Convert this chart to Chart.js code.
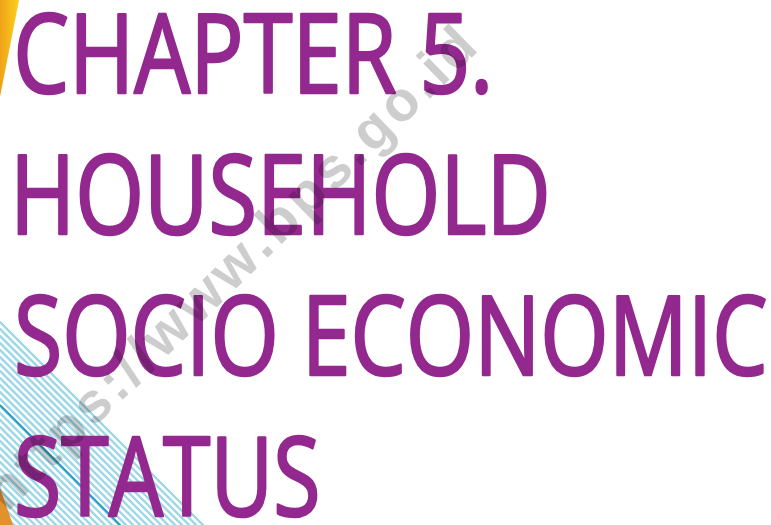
<!DOCTYPE html>
<html>
<head>
<meta charset="utf-8">
<script src="https://cdn.jsdelivr.net/npm/chart.js@4"></script>
<style>
  html, body { margin: 0; padding: 0; background: #fff; }
  #wrap { width: 771px; height: 525px; position: relative; }
</style>
</head>
<body>
<div id="wrap"><canvas id="cover"></canvas></div>
<script>
const titleLines = ["CHAPTER 5.", "HOUSEHOLD", "SOCIO ECONOMIC", "STATUS"];
const watermarkText = "https://www.bps.go.id";

// layout: right edge of each title line's ink (px)
const lineRight = [488, 547, 766, 318];
const PURPLE = "#93288f";

// watermark runs diagonally up to the right
const wmStart = { x: -4, y: 502 };
const wmAngle = -44.4;
const wmLength = 662;

const coverArt = {
  id: "coverArt",
  beforeDraw(chart) {
    const ctx = chart.ctx;
    ctx.save();
    ctx.fillStyle = "#fff";
    ctx.fillRect(0, 0, chart.width, chart.height);

    // yellow wedge, top left
    const g = ctx.createLinearGradient(0, 0, 19, 0);
    g.addColorStop(0, "#f0a21a");
    g.addColorStop(1, "#fbd11b");
    ctx.fillStyle = g;
    ctx.beginPath();
    ctx.moveTo(0, 0); ctx.lineTo(19, 0); ctx.lineTo(0, 97);
    ctx.closePath(); ctx.fill();

    // cyan hatching, bottom left
    ctx.save();
    ctx.beginPath();
    ctx.moveTo(0, 320); ctx.lineTo(210, 530); ctx.lineTo(0, 530);
    ctx.closePath(); ctx.clip();
    ctx.strokeStyle = "#9dd8e8";
    ctx.lineWidth = 2.4;
    for (let x = -260; x < 220; x += 7) {
      ctx.beginPath();
      ctx.moveTo(x, 300); ctx.lineTo(x + 240, 540);
      ctx.stroke();
    }
    ctx.restore();

    ctx.strokeStyle = "#2a9bc6";
    ctx.lineWidth = 2;
    ctx.beginPath();
    ctx.moveTo(0, 405); ctx.lineTo(125, 530);
    ctx.stroke();

    ctx.fillStyle = "#e2922c";
    ctx.beginPath();
    ctx.moveTo(0, 488); ctx.lineTo(13, 525); ctx.lineTo(0, 525);
    ctx.closePath(); ctx.fill();
    ctx.restore();
  },
  afterDatasetsDraw(chart) {
    const ctx = chart.ctx;
    const yScale = chart.scales.y;
    const left = chart.chartArea.left;
    const lw = 2.6;

    ctx.save();
    ctx.font = "110px 'Open Sans'";
    ctx.fillStyle = PURPLE;
    ctx.strokeStyle = PURPLE;
    ctx.lineWidth = lw;
    ctx.lineJoin = "round";
    const capH = ctx.measureText("H").actualBoundingBoxAscent;
    titleLines.forEach((line, i) => {
      const mid = yScale.getPixelForValue(i);
      const m = ctx.measureText(line);
      const inkW = m.actualBoundingBoxLeft + m.actualBoundingBoxRight + lw;
      const sx = (lineRight[i] - left) / inkW;
      ctx.save();
      ctx.translate(left, mid + capH / 2);
      ctx.scale(sx, 1);
      ctx.fillText(line, m.actualBoundingBoxLeft + lw / 2, 0);
      ctx.strokeText(line, m.actualBoundingBoxLeft + lw / 2, 0);
      ctx.restore();
    });
    ctx.restore();

    // watermark
    ctx.save();
    ctx.globalCompositeOperation = "multiply";
    ctx.fillStyle = "#cdcdcd";
    ctx.font = "bold 56px 'Liberation Sans'";
    ctx.textBaseline = "middle";
    ctx.translate(wmStart.x, wmStart.y);
    ctx.rotate(wmAngle * Math.PI / 180);
    const chars = [...watermarkText];
    const widths = chars.map(c => ctx.measureText(c).width);
    const natural = widths.reduce((a, b) => a + b, 0);
    const gap = (wmLength - natural) / (chars.length - 1);
    let x = 0;
    chars.forEach((c, k) => {
      ctx.fillText(c, x, 0);
      x += widths[k] + gap;
    });
    ctx.restore();
  }
};

new Chart(document.getElementById("cover"), {
  type: "bar",
  data: {
    labels: titleLines,
    datasets: []
  },
  options: {
    indexAxis: "y",
    responsive: true,
    maintainAspectRatio: false,
    animation: false,
    layout: { padding: { top: 53.5, bottom: 49, left: 17, right: 5 } },
    plugins: {
      legend: { display: false },
      tooltip: { enabled: false },
      title: { display: false }
    },
    scales: {
      y: { type: "category", offset: false, display: false },
      x: { display: false, min: 0, max: 1 }
    }
  },
  plugins: [coverArt]
});
</script>
</body>
</html>
